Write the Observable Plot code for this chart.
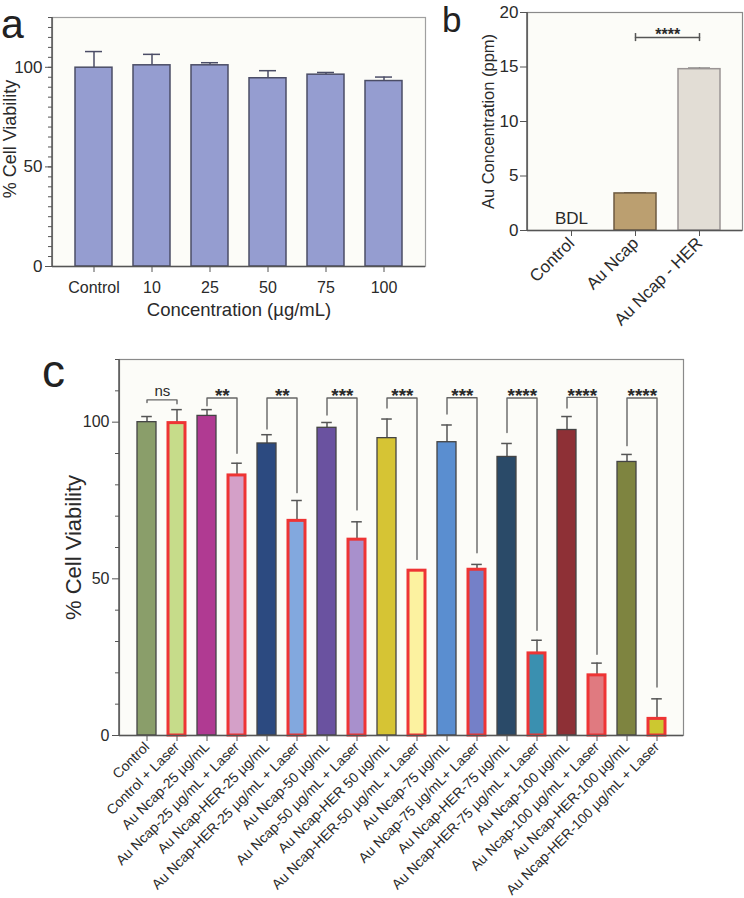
<!DOCTYPE html>
<html>
<head>
<meta charset="utf-8">
<script src="https://cdn.jsdelivr.net/npm/d3@7"></script>
<script src="https://cdn.jsdelivr.net/npm/@observablehq/plot@0.6"></script>
<style>
  html, body { margin: 0; padding: 0; background: #fff; }
  #fig { position: relative; width: 744px; height: 898px; overflow: hidden; font-family: "Liberation Sans", Arial, Helvetica, sans-serif; }
  #fig > svg, #fig > figure { position: absolute; margin: 0; }
</style>
</head>
<body>
<div id="fig"></div>
<script>
// ---------- Panel a data ----------
const aCategories = ["Control", "10", "25", "50", "75", "100"];
const aMeans = [99.8, 101, 101, 94.5, 96.3, 93.1];
const aErrTops = [107.9, 106.5, 102.3, 98.3, 97.4, 95.1];
const aYTicks = [0, 50, 100];

// ---------- Panel b data ----------
const bCategories = ["Control", "Au Ncap", "Au Ncap - HER"];
const bMeans = [null, 3.4, 14.8];
const bErrTops = [null, 3.47, 14.9];
const bFills = ["#ffffff", "#bb9f70", "#e2ddd5"];
const bStrokes = ["#666", "#6d5a40", "#9a9494"];
const bYTicks = [0, 5, 10, 15, 20];
const bSig = {from: "Au Ncap", to: "Au Ncap - HER", y: 17.7, label: "****"};

// ---------- Panel c data ----------
const cCategories = [
  "Control", "Control + Laser",
  "Au Ncap-25 µg/mL", "Au Ncap-25 µg/mL + Laser",
  "Au Ncap-HER-25 µg/mL", "Au Ncap-HER-25 µg/mL + Laser",
  "Au Ncap-50 µg/mL", "Au Ncap-50 µg/mL + Laser",
  "Au Ncap-HER 50 µg/mL", "Au Ncap-HER-50 µg/mL + Laser",
  "Au Ncap-75 µg/mL", "Au Ncap-75 µg/mL+ Laser",
  "Au Ncap-HER-75 µg/mL", "Au Ncap-HER-75 µg/mL + Laser",
  "Au Ncap-100 µg/mL", "Au Ncap-100 µg/mL + Laser",
  "Au Ncap-HER-100 µg/mL", "Au Ncap-HER-100 µg/mL + Laser"
];
const cMeans = [100, 99.7, 102, 83, 93.2, 68.5, 98.2, 62.5, 94.9, 52.6, 93.6, 52.9, 88.9, 26.2, 97.5, 19.2, 87.3, 5.3];
const cErrTops = [101.8, 104, 104, 86.9, 96, 75, 99.9, 68.2, 101, 52.9, 99.1, 54.6, 93.2, 30.4, 101.8, 23.1, 89.7, 11.7];
const cFills = ["#8a9e6a", "#c6dc8a", "#b03a92", "#d4a0c8", "#2c4a80", "#82a8de", "#6a52a0", "#a890cc", "#d6c434",
                "#fcf2a0", "#5a8ed0", "#7480c8", "#2a4a68", "#3a90b0", "#8e3036", "#e07a80", "#7e8440", "#ccc830"];
const cLaser = [false, true, false, true, false, true, false, true, false, true, false, true, false, true, false, true, false, true];
const cYMajor = [0, 50, 100];
const cYMinor = [10, 20, 30, 40, 60, 70, 80, 90, 110, 120];
// significance brackets: pair left/right indices, bracket height, leg ends, label
const sigLeft = [0, 2, 4, 6, 8, 10, 12, 14, 16];
const sigRight = [1, 3, 5, 7, 9, 11, 13, 15, 17];
const sigTop = [107.1, 107.7, 107.7, 107.7, 107.7, 107.8, 107.7, 107.9, 107.7];
const sigLegL = [106.3, 105.2, 97.8, 102.3, 104.5, 102.6, 96.7, 104.5, 92.5];
const sigLegR = [105.9, 90.1, 77.5, 72.0, 56.2, 58.3, 33.6, 25.9, 15.5];
const sigLabels = ["ns", "**", "**", "***", "***", "***", "****", "****", "****"];

const FONT = "'Liberation Sans', Arial, Helvetica, sans-serif";
const fig = document.getElementById("fig");
const baseStyle = {fontFamily: FONT, color: "#2a2a2a", background: "transparent", overflow: "visible"};
const frameFill = "#fcfcf8";

function place(el, left, top) {
  el.style.position = "absolute";
  el.style.left = left + "px";
  el.style.top = top + "px";
  fig.appendChild(el);
}
function leftLine(svg, mL, mT, mB, h) {
  d3.select(svg).append("line")
    .attr("x1", mL).attr("x2", mL).attr("y1", mT).attr("y2", h - mB)
    .attr("stroke", "#555").attr("stroke-width", 1.5);
}

// ---------- Panel a ----------
{
  const W = 440, H = 330, mL = 52, mR = 15, mT = 17, mB = 64;
  const data = aCategories.map((c, i) => ({c, v: aMeans[i], e: aErrTops[i]}));
  const svg = Plot.plot({
    width: W, height: H, marginLeft: mL, marginRight: mR, marginTop: mT, marginBottom: mB,
    style: baseStyle,
    x: {domain: aCategories, paddingInner: 0.354, paddingOuter: 0.347},
    y: {domain: [0, 125]},
    marks: [
      Plot.frame({fill: frameFill, stroke: "#a0a0a0", strokeWidth: 1.2}),
      Plot.ruleX(data, {x: "c", y1: "v", y2: "e", stroke: "#4b4d66", strokeWidth: 1.5}),
      Plot.tickY(data, {x: "c", y: "e", insetLeft: 10, insetRight: 10, stroke: "#4b4d66", strokeWidth: 1.5}),
      Plot.barY(data, {x: "c", y: "v", fill: "#959dd0", stroke: "#4b4d66", strokeWidth: 1.5}),
      Plot.ruleY([0], {stroke: "#555", strokeWidth: 1.5}),
      Plot.axisY({ticks: d3.range(0, 126, 5), tickSize: 4, tickFormat: () => "", stroke: "#555", label: null}),
      Plot.axisY({ticks: aYTicks, tickSize: 7, tickPadding: 3, fontSize: 17, stroke: "#555", label: null}),
      Plot.axisX({tickSize: 6, tickPadding: 9, fontSize: 16, stroke: "#555", label: null}),
      Plot.text(["% Cell Viability"], {text: d => d, frameAnchor: "left", textAnchor: "middle", dx: -42, dy: -3, rotate: -90, fontSize: 18}),
      Plot.text(["Concentration (µg/mL)"], {text: d => d, frameAnchor: "bottom", textAnchor: "middle", dy: 49, fontSize: 18.5})
    ]
  });
  leftLine(svg, mL, mT, mB, H);
  place(svg, 0, 0);
}

// ---------- Panel b ----------
{
  const W = 344, H = 330, mL = 127, mR = 2, mT = 12, mB = 100;
  const pi = 0.35, po = 0.34;
  const step = (W - mL - mR) / (bCategories.length - pi + 2 * po);
  const data = bCategories.map((c, i) => ({c, v: bMeans[i], e: bErrTops[i], f: bFills[i], s: bStrokes[i]}))
    .filter(d => d.v != null);
  const svg = Plot.plot({
    width: W, height: H, marginLeft: mL, marginRight: mR, marginTop: mT, marginBottom: mB,
    style: baseStyle,
    x: {domain: bCategories, paddingInner: pi, paddingOuter: po},
    y: {domain: [0, 20]},
    marks: [
      Plot.frame({fill: frameFill, stroke: "#8a8a8a", strokeWidth: 1.2}),
      Plot.ruleX(data, {x: "c", y1: "v", y2: "e", stroke: "#666", strokeWidth: 1.3}),
      Plot.tickY(data, {x: "c", y: "e", insetLeft: 10, insetRight: 10, stroke: "#666", strokeWidth: 1.3}),
      Plot.barY(data, {x: "c", y: "v", fill: "f", stroke: "s", strokeWidth: 1.5}),
      Plot.text([{c: "Control", y: 1.1, t: "BDL"}], {x: "c", y: "y", text: "t", fontSize: 17}),
      Plot.line([{x: bSig.from, y: bSig.y}, {x: bSig.to, y: bSig.y}], {x: "x", y: "y", stroke: "#555", strokeWidth: 1.5}),
      Plot.ruleX([bSig.from, bSig.to], {x: d => d, y1: bSig.y - 0.37, y2: bSig.y + 0.37, stroke: "#555", strokeWidth: 1.5}),
      Plot.text([bSig], {x: "from", y: "y", text: "label", dx: step / 2, dy: -3, fontSize: 16, fontWeight: "bold"}),
      Plot.ruleY([0], {stroke: "#555", strokeWidth: 1.5}),
      Plot.axisY({ticks: bYTicks, tickSize: 7, tickPadding: 2, fontSize: 17, stroke: "#555", label: null}),
      Plot.axisX({tickSize: 6, tickPadding: 4, tickRotate: -45, fontSize: 17, stroke: "#555", label: null}),
      Plot.text(["Au Concentration (ppm)"], {text: d => d, frameAnchor: "left", textAnchor: "middle", dx: -39, rotate: -90, fontSize: 16.5})
    ]
  });
  leftLine(svg, mL, mT, mB, H);
  place(svg, 400, 0);
}

// ---------- Panel c ----------
{
  const W = 744, H = 558, mL = 119, mR = 61, mT = 19, mB = 163;
  const pi = 0.38, po = 0.375;
  const step = (W - mL - mR) / (cCategories.length - pi + 2 * po);
  const data = cCategories.map((c, i) => ({c, v: cMeans[i], e: cErrTops[i], f: cFills[i], laser: cLaser[i]}));
  const plain = data.filter(d => !d.laser), laser = data.filter(d => d.laser);
  const brackets = [];
  const sig = sigLabels.map((t, k) => ({
    a: cCategories[sigLeft[k]], b: cCategories[sigRight[k]], y: sigTop[k], t
  }));
  sigLabels.forEach((t, k) => {
    const a = cCategories[sigLeft[k]], b = cCategories[sigRight[k]];
    brackets.push({g: k, x: a, y: sigLegL[k]}, {g: k, x: a, y: sigTop[k]},
                  {g: k, x: b, y: sigTop[k]}, {g: k, x: b, y: sigLegR[k]});
  });
  const svg = Plot.plot({
    width: W, height: H, marginLeft: mL, marginRight: mR, marginTop: mT, marginBottom: mB,
    style: baseStyle,
    x: {domain: cCategories, paddingInner: pi, paddingOuter: po},
    y: {domain: [0, 120]},
    marks: [
      Plot.frame({fill: frameFill, stroke: "#8a8a8a", strokeWidth: 1.2}),
      Plot.ruleX(data, {x: "c", y1: "v", y2: "e", stroke: "#555", strokeWidth: 1.5}),
      Plot.tickY(data, {x: "c", y: "e", insetLeft: 4.2, insetRight: 4.2, stroke: "#555", strokeWidth: 1.5}),
      Plot.barY(plain, {x: "c", y: "v", fill: "f", stroke: "#444", strokeWidth: 1.3}),
      Plot.barY(laser, {x: "c", y: "v", fill: "f", stroke: "#ee3434", strokeWidth: 3, insetLeft: 1, insetRight: 1}),
      Plot.line(brackets, {x: "x", y: "y", z: "g", stroke: "#666", strokeWidth: 1.4}),
      Plot.text(sig.filter(d => d.t === "ns"), {x: "a", y: "y", text: "t", dx: step / 2, dy: -9, fontSize: 15}),
      Plot.text(sig.filter(d => d.t !== "ns"), {x: "a", y: "y", text: "t", dx: step / 2, dy: -2, fontSize: 19, fontWeight: "bold"}),
      Plot.ruleY([0], {stroke: "#555", strokeWidth: 1.5}),
      Plot.axisY({ticks: cYMinor, tickSize: 4, tickFormat: () => "", stroke: "#555", label: null}),
      Plot.axisY({ticks: cYMajor, tickSize: 7, tickPadding: 3, fontSize: 16, stroke: "#555", label: null}),
      Plot.axisX({tickSize: 6, tickPadding: 3, tickRotate: -45, fontSize: 14, stroke: "#555", label: null}),
      Plot.text(["% Cell Viability"], {text: d => d, frameAnchor: "left", textAnchor: "middle", dx: -46, rotate: -90, fontSize: 22})
    ]
  });
  leftLine(svg, mL, mT, mB, H);
  place(svg, 0, 340);
}

// ---------- Panel letters ----------
{
  const ov = d3.create("svg").attr("width", 744).attr("height", 898)
    .style("position", "absolute").style("left", "0px").style("top", "0px").style("pointer-events", "none")
    .style("font-family", FONT);
  const letters = [{t: "a", x: 1, y: 38, s: 41}, {t: "b", x: 442, y: 32, s: 35}, {t: "c", x: 42, y: 387, s: 46}];
  ov.selectAll("text").data(letters).join("text")
    .attr("x", d => d.x).attr("y", d => d.y).attr("font-size", d => d.s).attr("fill", "#222").text(d => d.t);
  fig.appendChild(ov.node());
}
</script>
</body>
</html>
